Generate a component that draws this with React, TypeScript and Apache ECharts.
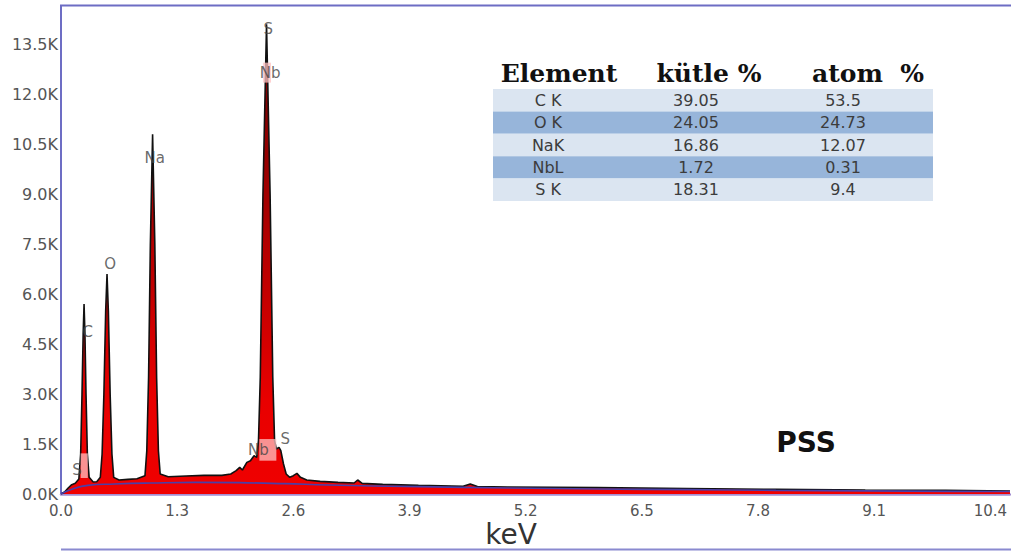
import React, { useEffect, useRef } from "react";
import * as echarts from "echarts";

// Spectrum (keV, counts)
const spectrumKeV = [
  0.0, 0.04, 0.08, 0.12, 0.16, 0.2, 0.22, 0.235, 0.248, 0.258, 0.268, 0.28, 0.295, 0.315,
  0.36, 0.4, 0.44, 0.46, 0.48, 0.5, 0.515, 0.53, 0.55, 0.57, 0.59, 0.65, 0.75, 0.85,
  0.94, 0.96, 0.98, 1.0, 1.025, 1.05, 1.07, 1.09, 1.11, 1.2, 1.4, 1.6, 1.8, 1.9, 1.96,
  2.0, 2.03, 2.08, 2.12, 2.16, 2.19, 2.21, 2.23, 2.26, 2.3, 2.34, 2.37, 2.39, 2.41, 2.44,
  2.46, 2.49, 2.52, 2.56, 2.6, 2.64, 2.68, 2.75, 2.9, 3.1, 3.28, 3.32, 3.37, 3.6, 4.0,
  4.5, 4.58, 4.66, 5.0, 6.0, 7.0, 8.0, 9.0, 9.9, 10.62,
];
const spectrumCounts = [
  0, 60, 180, 280, 320, 450, 1200, 3000, 4800, 5700, 4800, 3000, 1200, 500,
  360, 370, 500, 1200, 3000, 5500, 6600, 5500, 3000, 1200, 500, 420, 440, 460,
  550, 1300, 3500, 7500, 10800, 7500, 3500, 1300, 600, 520, 540, 560, 560, 600, 700,
  800, 720, 950, 1000, 1150, 1100, 1600, 3500, 9000, 14100, 9000, 3500, 1600, 1350, 1400,
  1300, 900, 600, 500, 550, 620, 500, 420, 380, 350, 330, 420, 320, 290, 260,
  230, 300, 225, 210, 190, 165, 140, 120, 110, 90,
];

// Background fit (keV, counts)
const backgroundKeV = [0.0, 0.1, 0.3, 0.6, 1.0, 1.5, 2.0, 2.5, 3.0, 4.0, 5.0, 6.0, 7.0, 8.0, 9.0, 10.0, 10.62];
const backgroundCounts = [0, 120, 260, 300, 330, 350, 340, 310, 270, 220, 180, 150, 130, 110, 95, 80, 75];

// Peak labels
const peakLabelNames = ["S", "C", "O", "Na", "S", "Nb", "Nb", "S"];
const peakLabelKeV = [0.18, 0.3, 0.55, 1.05, 2.32, 2.34, 2.21, 2.51];
const peakLabelCounts = [720, 4870, 6900, 10100, 13950, 12650, 1310, 1640];

// Element marker boxes [keV from, keV to], [counts from, counts to]
const markerBoxKeV = [[0.22, 0.3], [2.22, 2.41], [2.26, 2.35]];
const markerBoxCounts = [[480, 1220], [1000, 1650], [12350, 12950]];

// Table
const tableHeaders = ["Element", "kütle %", "atom  %"];
const tableElements = ["C K", "O K", "NaK", "NbL", "S K"];
const tableMass = ["39.05", "24.05", "16.86", "1.72", "18.31"];
const tableAtom = ["53.5", "24.73", "12.07", "0.31", "9.4"];

const sampleName = "PSS";
const xAxisName = "keV";

export default function App() {
  const ref = useRef<HTMLDivElement>(null);
  useEffect(() => {
    if (!ref.current) return;
    const chart = echarts.init(ref.current, undefined, { renderer: "svg" });

    const spectrum = spectrumKeV.map((k, i) => [k, spectrumCounts[i]]);
    const background = backgroundKeV.map((k, i) => [k, backgroundCounts[i]]);
    const labels = peakLabelNames.map((n, i) => ({ name: n, value: [peakLabelKeV[i], peakLabelCounts[i]] }));
    const boxes = markerBoxKeV.map((kv, i) => [
      { coord: [kv[0], markerBoxCounts[i][0]] },
      { coord: [kv[1], markerBoxCounts[i][1]] },
    ]);

    const tableLeft = 493;
    const tableRight = 933;
    const rowTop = 89;
    const rowH = 22.4;
    const colX = [548, 696, 843];
    const headerX = [559, 709, 868];
    const tableGraphics: any[] = [];
    tableElements.forEach((el, i) => {
      tableGraphics.push({
        type: "rect",
        shape: { x: tableLeft, y: rowTop + i * rowH, width: tableRight - tableLeft, height: rowH },
        style: { fill: i % 2 === 0 ? "#dbe5f1" : "#97b5da" },
        silent: true,
      });
      [el, tableMass[i], tableAtom[i]].forEach((t, j) => {
        tableGraphics.push({
          type: "text",
          x: colX[j],
          y: rowTop + i * rowH + rowH / 2,
          style: {
            text: t,
            fill: "#3c3c3c",
            font: "16px 'DejaVu Sans'",
            align: "center",
            verticalAlign: "middle",
          },
          silent: true,
        });
      });
    });
    tableHeaders.forEach((h, j) => {
      tableGraphics.push({
        type: "text",
        x: headerX[j],
        y: 73,
        style: {
          text: h,
          fill: "#111",
          font: "bold 25px 'DejaVu Serif'",
          align: "center",
          verticalAlign: "middle",
        },
        silent: true,
      });
    });

    chart.setOption({
      animation: false,
      backgroundColor: "#ffffff",
      grid: { left: 61, top: 6, right: 1, bottom: 58, containLabel: false },
      xAxis: {
        type: "value",
        min: 0,
        max: 10.62,
        interval: 1.3,
        axisLine: { show: true, lineStyle: { color: "#a48fd2", width: 2.5 } },
        axisTick: { show: false },
        splitLine: { show: false },
        axisLabel: {
          showMaxLabel: false,
          margin: 9,
          color: "#555",
          fontFamily: "DejaVu Sans",
          fontSize: 15,
          formatter: (v: number) => v.toFixed(1),
        },
      },
      yAxis: {
        type: "value",
        min: 0,
        max: 14650,
        interval: 1500,
        axisLine: { show: true, lineStyle: { color: "#6d6dc4", width: 2 } },
        axisTick: { show: false },
        splitLine: { show: false },
        axisLabel: {
          showMaxLabel: false,
          margin: 3,
          color: "#555",
          fontFamily: "DejaVu Sans",
          fontSize: 16,
          formatter: (v: number) => (v / 1000).toFixed(1) + "K",
        },
      },
      series: [
        {
          type: "line",
          data: spectrum,
          symbol: "none",
          smooth: false,
          lineStyle: { color: "#111", width: 1.6 },
          areaStyle: {
            opacity: 1,
            color: new echarts.graphic.LinearGradient(0, 0, 0, 1, [
              { offset: 0, color: "#6a0000" },
              { offset: 0.45, color: "#b00000" },
              { offset: 0.8, color: "#e80000" },
              { offset: 1, color: "#f00000" },
            ]),
          },
          z: 2,
        },
        {
          type: "line",
          data: background,
          symbol: "none",
          smooth: true,
          lineStyle: { color: "#4a3fa8", width: 1.6 },
          z: 3,
          markArea: {
            silent: true,
            z: 10,
            itemStyle: { color: "rgba(255,195,195,0.75)" },
            data: boxes,
          },
        },
        {
          type: "scatter",
          data: labels,
          symbolSize: 1,
          itemStyle: { color: "rgba(0,0,0,0)" },
          label: {
            show: true,
            position: "inside",
            formatter: "{b}",
            color: "#444",
            fontFamily: "DejaVu Sans",
            fontSize: 15,
          },
          z: 12,
        },
      ],
      graphic: [
        {
          type: "line",
          shape: { x1: 60, y1: 5.5, x2: 1011, y2: 5.5 },
          style: { stroke: "#6d6dc4", lineWidth: 2 },
          silent: true,
        },
        {
          type: "line",
          shape: { x1: 61, y1: 549.5, x2: 1011, y2: 549.5 },
          style: { stroke: "#8a8ad0", lineWidth: 2 },
          silent: true,
        },
        {
          type: "text",
          x: 511,
          y: 534,
          style: {
            text: xAxisName,
            fill: "#333",
            font: "28px 'DejaVu Sans'",
            align: "center",
            verticalAlign: "middle",
          },
          silent: true,
        },
        {
          type: "text",
          x: 806,
          y: 442,
          style: {
            text: sampleName,
            fill: "#111",
            font: "bold 28px 'DejaVu Sans'",
            align: "center",
            verticalAlign: "middle",
          },
          silent: true,
        },
        ...tableGraphics,
      ],
    });
    return () => chart.dispose();
  }, []);
  return (
    <div
      ref={ref}
      style={{ position: "fixed", left: 0, top: 0, width: 1011, height: 552, background: "#fff" }}
    />
  );
}
